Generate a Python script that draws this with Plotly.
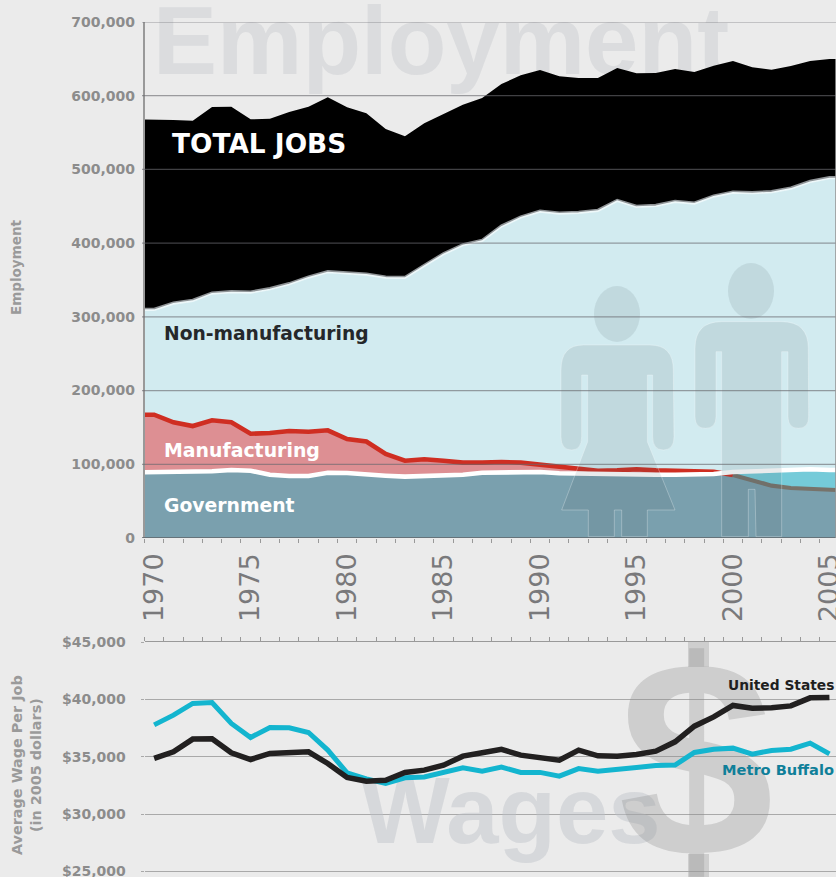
import plotly.graph_objects as go

W, H = 836, 877
YEARS = list(range(1970, 2006))
X_MIN, X_MAX = 1969.5, 2005.34

TOTAL = [567700,567000,566100,584700,585100,568000,568800,577900,585100,597900,584300,576100,554900,544900,562600,575200,587800,596900,615900,627700,634900,626300,624000,624000,637600,630400,630800,636200,632200,640700,647100,638500,635300,640300,647100,649800]
NON_MFG = [310700,319200,322900,332800,334700,334100,338700,345500,354500,361800,359900,358500,354500,354100,370300,386200,398400,404300,423700,435900,444000,441300,442300,445000,458500,450400,451700,457200,454900,464400,469800,469000,470300,475200,484300,489300]
MFG = [167300,157000,151900,159700,157000,141500,142400,145200,144200,146100,134300,130900,114000,104900,106800,104900,102200,102200,103100,102200,99400,95400,92900,91300,91800,93200,91800,91300,90900,89900,85500,77700,71000,67800,66100,65100]
GOV = [89100,89900,89500,90500,92200,91300,85900,84100,84100,88600,88200,85900,84500,83200,83700,84100,85900,88600,88600,88600,89500,87800,87200,87200,86800,85900,85900,85900,85900,86800,89500,90500,91300,92700,93200,92200]
WAGE_US = [34860,35440,36550,36570,35350,34770,35300,35410,35440,34420,33200,32880,32960,33640,33840,34270,35060,35350,35650,35150,34910,34710,35590,35090,35060,35210,35500,36310,37680,38490,39490,39250,39280,39450,40150,40190]
WAGE_BUF = [37790,38640,39660,39750,37920,36690,37570,37530,37130,35590,33600,33080,32680,33170,33250,33690,34040,33750,34100,33640,33640,33310,33970,33750,33860,34060,34250,34280,35380,35670,35760,35240,35560,35670,36200,35260]
EMP_TICKS = [0,100000,200000,300000,400000,500000,600000,700000]
WAGE_TICKS = [25000,30000,35000,40000,45000]
YEAR_LABELS = list(range(1970, 2006, 5))

LEFT = 144.5
Y0_TOP, Y1_TOP = 538.0, 22.0
Y_WAGE_TOP = 642.3
WAGE_LOW = 24510

def fx(px): return px / W
def fy(py): return 1 - py / H
def year_at(px): return X_MIN + (px - LEFT) / (W - LEFT) * (X_MAX - X_MIN)
def emp_at(py): return (Y0_TOP - py) / (Y0_TOP - Y1_TOP) * 700000
def wage_at(py): return 45000 - (py - Y_WAGE_TOP) / (H - Y_WAGE_TOP) * (45000 - WAGE_LOW)
def ext(v): return [v[0]] + v + [v[-1]]

XE = [X_MIN] + YEARS + [X_MAX]
fig = go.Figure()

def text_trace(label, px, py, size, color, sub, pos="middle right", family="Liberation Sans"):
    if sub == 1:
        xa, ya, yv = "x", "y", emp_at(py)
    else:
        xa, ya, yv = "x2", "y2", wage_at(py)
    fig.add_trace(go.Scatter(x=[year_at(px)], y=[yv], mode="text", text=[f"<b>{label}</b>"],
                             textposition=pos, cliponaxis=False, xaxis=xa, yaxis=ya, hoverinfo="skip",
                             textfont=dict(family=family, size=size, color=color), showlegend=False))

DOLLAR = "rgba(140,140,140,0.30)"
text_trace("Employment", 153, 50, 96, "rgba(190,194,200,0.36)", 1)
text_trace("Wages", 361, 820, 94, "rgba(190,194,200,0.46)", 2)
text_trace("$", 696, 786, 280, DOLLAR, 2, pos="middle center")

def area(y, color, line=None, width=0):
    fig.add_trace(go.Scatter(x=XE, y=y, mode="lines", fill="tozeroy", fillcolor=color,
                             line=dict(color=line or color, width=width), hoverinfo="skip", showlegend=False))

def line(x, y, color, width, xa="x", ya="y"):
    fig.add_trace(go.Scatter(x=x, y=y, mode="lines", line=dict(color=color, width=width),
                             xaxis=xa, yaxis=ya, hoverinfo="skip", showlegend=False))

area(ext(TOTAL), "#000000")
line(XE, ext(NON_MFG), "#8f9396", 2.5)
area([v - 1600 for v in ext(NON_MFG)], "#d2ebf0", "#eef8fa", 1.6)
area(ext(MFG), "#dd8f93")
area(ext(GOV), "#75cbd9")
area([min(a, b) for a, b in zip(ext(GOV), ext(MFG))], "#7aa0ae")

n2000 = YEARS.index(2000)
line(XE[:n2000 + 2], ext(MFG)[:n2000 + 2], "#cf2e22", 4.6)
line(XE[n2000 + 1:], ext(MFG)[n2000 + 1:], "#77736b", 4.2)
line(XE, ext(GOV), "#ffffff", 4.6)

line(YEARS, WAGE_BUF, "#13b5cf", 5, "x2", "y2")
line(YEARS, WAGE_US, "#222020", 5.5, "x2", "y2")

shapes = []
def zp(ox, oy, pts):
    out = []
    for cmd in pts:
        c = cmd[0]
        nums = cmd[1:]
        coords = []
        for i in range(0, len(nums), 2):
            coords.append(f"{fx(ox + nums[i] / 3):.5f},{fy(oy + nums[i + 1] / 3):.5f}")
        out.append(c + " ".join(coords))
    return " ".join(out) + " Z"

SIL = "rgba(70,90,100,0.12)"
EDGE = "rgba(255,255,255,0.28)"
woman = [("M",130,255),("L",330,255),("Q",400,255,400,330),("L",402,530),("Q",402,570,370,570),("Q",338,570,338,530),
         ("L",338,345),("L",322,345),("L",322,545),("L",405,750),("L",322,750),("L",322,830),("L",245,830),("L",245,750),
         ("L",223,750),("L",223,830),("L",145,830),("L",145,750),("L",65,750),("L",143,545),("L",143,345),("L",125,345),
         ("L",125,530),("Q",125,570,95,570),("Q",63,570,63,530),("L",63,330),("Q",63,255,130,255)]
man = [("M",545,185),("L",725,185),("Q",805,185,805,265),("L",806,470),("Q",806,505,775,505),("Q",744,505,744,470),
       ("L",744,275),("L",725,275),("L",725,830),("L",648,830),("L",645,688),("L",625,688),("L",625,830),("L",545,830),
       ("L",545,275),("L",528,275),("L",528,470),("Q",528,505,496,505),("Q",465,505,465,470),("L",465,265),("Q",465,185,545,185)]
for p in (woman, man):
    shapes.append(dict(type="path", xref="paper", yref="paper", path=zp(540, 260, p), fillcolor=SIL,
                       line=dict(color=EDGE, width=1), layer="above"))
for cx, cy in ((617, 314), (751, 291)):
    shapes.append(dict(type="circle", xref="paper", yref="paper", x0=fx(cx - 23), x1=fx(cx + 23),
                       y0=fy(cy + 28), y1=fy(cy - 28), fillcolor=SIL, line=dict(width=0), layer="above"))
for v in EMP_TICKS[1:]:
    shapes.append(dict(type="line", xref="paper", yref="y", x0=fx(142), x1=1, y0=v, y1=v,
                       line=dict(color="rgba(105,105,110,0.62)", width=1.2), layer="above"))
shapes.append(dict(type="line", xref="paper", yref="y", x0=fx(142), x1=1, y0=0, y1=0,
                   line=dict(color="#5f6468", width=1.4), layer="above"))
shapes.append(dict(type="line", xref="paper", yref="paper", x0=fx(835.5), x1=fx(835.5), y0=fy(538), y1=fy(59),
                   line=dict(color="rgba(150,150,150,0.8)", width=1), layer="above"))
for y0, y1 in ((642, 667), (854, 877)):
    shapes.append(dict(type="rect", xref="paper", yref="paper", x0=fx(688), x1=fx(709), y0=fy(y1), y1=fy(y0),
                       fillcolor=DOLLAR, line=dict(width=0), layer="below"))

ann = []
def note(text, px, py, size, color, anchor="left", angle=0, bold=True):
    ann.append(dict(text=f"<b>{text}</b>" if bold else text, x=fx(px), y=fy(py), xref="paper", yref="paper",
                    xanchor=anchor, yanchor="middle", showarrow=False, textangle=angle,
                    font=dict(family="DejaVu Sans", size=size, color=color)))

note("TOTAL JOBS", 170, 144, 26.4, "#ffffff")
note("Non-manufacturing", 162, 333, 18.7, "#25272a")
note("Manufacturing", 162, 450, 18.9, "#ffffff")
note("Government", 162, 505, 18.8, "#ffffff")
note("United States", 836, 685, 13.8, "#1f1f1f", anchor="right")
note("Metro Buffalo", 836, 769, 14.6, "#0f7f99", anchor="right")
note("Employment", 16, 268, 13.5, "#9a9a9a", anchor="center", angle=-90)
note("Average Wage Per Job<br>(in 2005 dollars)", 26, 765, 14.4, "#9a9a9a", anchor="center", angle=-90)

TICKF = dict(family="DejaVu Sans", size=14, color="#8c8c8c", weight="bold")
GRAY = "#999999"

fig.update_layout(
    width=W, height=H, margin=dict(l=0, r=0, t=0, b=0, autoexpand=False), autosize=False,
    paper_bgcolor="#ebebeb", plot_bgcolor="rgba(0,0,0,0)", showlegend=False,
    shapes=shapes, annotations=ann,
    xaxis=dict(domain=[LEFT / W, 1], range=[X_MIN, X_MAX], tickmode="array", tickvals=YEAR_LABELS,
               ticktext=[str(y) for y in YEAR_LABELS], tickangle=-90, ticks="", showgrid=False, zeroline=False,
               tickfont=dict(family="DejaVu Sans", size=27, color="#79797b"), ticklabelstandoff=9,
               ticklabeloverflow="allow", showline=False, anchor="y",
               minor=dict(tick0=X_MIN, dtick=1, ticks="outside", ticklen=4, tickcolor=GRAY, tickwidth=1, showgrid=False)),
    yaxis=dict(domain=[fy(Y0_TOP), fy(Y1_TOP)], range=[0, 700000], tickmode="array", tickvals=EMP_TICKS,
               ticktext=[f"{v:,}" for v in EMP_TICKS], tickfont=TICKF, showgrid=False, zeroline=False,
               showline=True, linecolor=GRAY, linewidth=1.5, ticks="", ticklabelstandoff=5,
               ticklabeloverflow="allow", anchor="x"),
    xaxis2=dict(domain=[LEFT / W, 1], range=[X_MIN, X_MAX], anchor="y2", side="top", showticklabels=False,
                tickmode="linear", tick0=X_MIN, dtick=1, ticks="outside", ticklen=4, tickcolor=GRAY, tickwidth=1,
                showgrid=False, zeroline=False, showline=True, linecolor=GRAY, linewidth=1),
    yaxis2=dict(domain=[0, fy(Y_WAGE_TOP)], range=[WAGE_LOW, 45000], tickmode="array", tickvals=WAGE_TICKS,
                ticktext=[f"${v:,}" for v in WAGE_TICKS], tickfont=TICKF, showgrid=True, gridcolor="#a9a9a9", gridwidth=1.3,
                zeroline=False, showline=False, ticks="outside", ticklen=3, tickcolor="#a9a9a9",
                ticklabelstandoff=12, ticklabeloverflow="allow", anchor="x2"),
)

fig.write_html("out.html", config=dict(displayModeBar=False),
               post_script="document.body.style.margin='0';document.body.style.overflow='hidden';")
